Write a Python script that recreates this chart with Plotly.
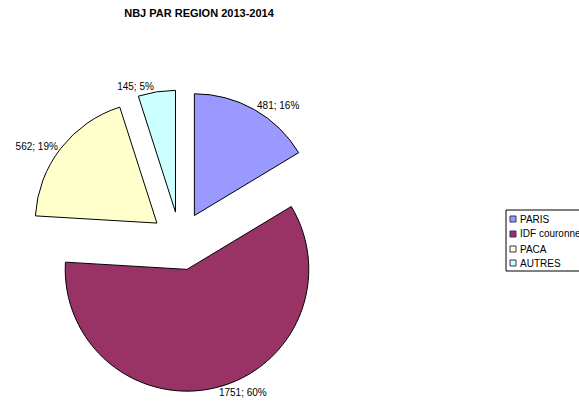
import plotly.graph_objects as go

labels = ["PARIS", "IDF couronne", "PACA", "AUTRES"]
values = [481, 1751, 562, 145]
colors = ["#9999FF", "#993366", "#FFFFCC", "#CCFFFF"]
pulls = [0.24, 0.24, 0.24, 0.24]

W, H = 579, 410
FONT = "Liberation Sans, Arial, sans-serif"


def px(x):
    return x / W


def py(y):
    return 1 - y / H


fig = go.Figure(go.Pie(
    labels=labels,
    values=values,
    sort=False,
    direction="clockwise",
    rotation=0,
    pull=pulls,
    marker=dict(colors=colors, line=dict(color="black", width=1)),
    texttemplate="%{value}; %{percent:.0%}",
    textposition="outside",
    textfont=dict(family=FONT, size=10, color="black"),
    domain=dict(x=[px(29), px(331)], y=[py(392), py(90)]),
    hoverinfo="label+value+percent",
    showlegend=False,
))

# legend box (drawn to mimic the original, partially cut by the right edge)
shapes = [dict(type="rect", xref="paper", yref="paper",
               x0=px(506), x1=px(640), y0=py(271), y1=py(210),
               line=dict(color="black", width=1), fillcolor="white", layer="above")]
annotations = []
row_y = [219, 234, 249, 263]
for lab, col, ry in zip(labels, colors, row_y):
    shapes.append(dict(type="rect", xref="paper", yref="paper",
                       x0=px(510), x1=px(516), y0=py(ry + 3), y1=py(ry - 3),
                       line=dict(color="#333366", width=1), fillcolor=col, layer="above"))
    annotations.append(dict(text=lab, xref="paper", yref="paper", x=px(518), y=py(ry),
                            xanchor="left", yanchor="middle", showarrow=False,
                            font=dict(family=FONT, size=10, color="black")))

fig.update_layout(
    width=W, height=H,
    margin=dict(l=0, r=0, t=0, b=0, autoexpand=False),
    paper_bgcolor="white",
    plot_bgcolor="white",
    font=dict(family=FONT, size=10, color="black"),
    title=dict(text="<b>NBJ PAR REGION 2013-2014</b>", x=px(199), xanchor="center",
               y=py(13), yanchor="middle", yref="paper",
               font=dict(family=FONT, size=11, color="black")),
    shapes=shapes,
    annotations=annotations,
    showlegend=False,
)

fig.write_html(
    "out.html",
    config={"displayModeBar": False},
    post_script="document.body.style.margin='0';document.body.style.overflow='hidden';",
)
